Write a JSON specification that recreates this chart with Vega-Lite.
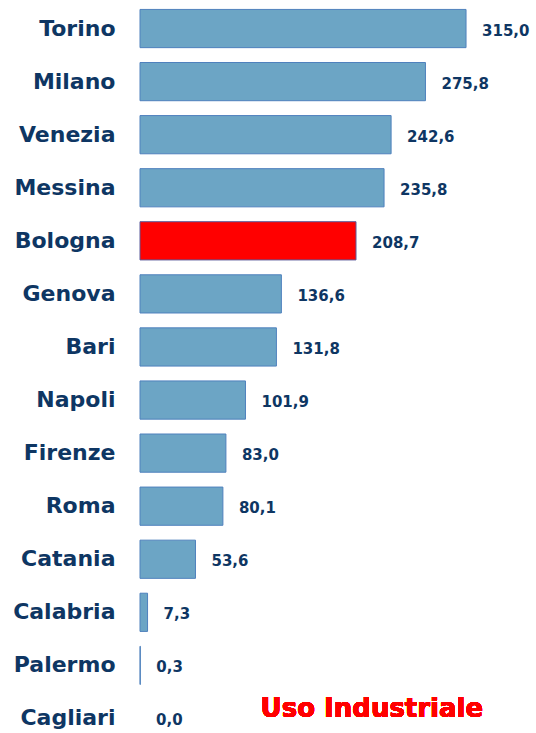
{
  "$schema": "https://vega.github.io/schema/vega-lite/v6.json",
  "width": 396,
  "height": 743,
  "autosize": {"type": "none"},
  "padding": {"left": 140, "top": 2, "right": 0, "bottom": 0},
  "background": "white",
  "config": {
    "view": {"stroke": null},
    "locale": {"number": {"decimal": ",", "thousands": ".", "grouping": [3], "currency": ["", " €"]}}
  },
  "data": {
    "values": [
      {"city": "Torino", "value": 315.0, "hl": "no"},
      {"city": "Milano", "value": 275.8, "hl": "no"},
      {"city": "Venezia", "value": 242.6, "hl": "no"},
      {"city": "Messina", "value": 235.8, "hl": "no"},
      {"city": "Bologna", "value": 208.7, "hl": "yes"},
      {"city": "Genova", "value": 136.6, "hl": "no"},
      {"city": "Bari", "value": 131.8, "hl": "no"},
      {"city": "Napoli", "value": 101.9, "hl": "no"},
      {"city": "Firenze", "value": 83.0, "hl": "no"},
      {"city": "Roma", "value": 80.1, "hl": "no"},
      {"city": "Catania", "value": 53.6, "hl": "no"},
      {"city": "Calabria", "value": 7.3, "hl": "no"},
      {"city": "Palermo", "value": 0.3, "hl": "no"},
      {"city": "Cagliari", "value": 0.0, "hl": "no"}
    ]
  },
  "encoding": {
    "y": {
      "field": "city", "type": "nominal", "sort": null,
      "scale": {"paddingInner": 0.28, "paddingOuter": 0.14},
      "axis": {
        "title": null, "ticks": false, "domain": false, "labelPadding": 25,
        "labelFont": "DejaVu Sans", "labelFontWeight": "bold", "labelFontSize": 22,
        "labelColor": "#0E3663"
      }
    }
  },
  "layer": [
    {
      "mark": {"type": "bar", "strokeWidth": 1},
      "encoding": {
        "x": {"field": "value", "type": "quantitative", "scale": {"domain": [0, 382.6], "nice": false}, "axis": null},
        "color": {"field": "hl", "type": "nominal", "scale": {"domain": ["no", "yes"], "range": ["#6CA5C5", "#FF0000"]}, "legend": null},
        "stroke": {"field": "hl", "type": "nominal", "scale": {"domain": ["no", "yes"], "range": ["#4F81BD", "#5A5A9A"]}, "legend": null},
        "strokeOpacity": {"condition": {"test": "datum.value == 0", "value": 0}, "value": 1}
      }
    },
    {
      "mark": {"type": "text", "align": "left", "dx": 16, "font": "DejaVu Sans", "fontWeight": "bold", "fontSize": 15, "color": "#0E3663", "baseline": "middle", "dy": 2},
      "encoding": {
        "x": {"field": "value", "type": "quantitative"},
        "text": {"field": "value", "type": "quantitative", "format": ".1f"}
      }
    },
    {
      "mark": {"type": "text", "align": "center", "baseline": "middle", "font": "DejaVu Sans", "fontWeight": "bold", "fontSize": 26, "color": "#FF0000", "dy": -9},
      "encoding": {
        "x": {"datum": 224, "type": "quantitative"},
        "y": {"datum": "Cagliari", "type": "nominal"},
        "text": {"value": "Uso Industriale"}
      }
    }
  ]
}
